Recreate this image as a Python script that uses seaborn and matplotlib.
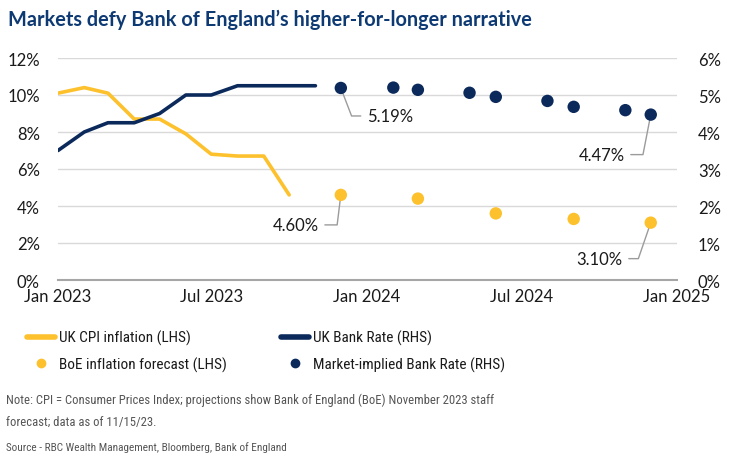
import pandas as pd
import numpy as np
import matplotlib
matplotlib.use('Agg')
import matplotlib.pyplot as plt
from matplotlib import font_manager as fm
from matplotlib.lines import Line2D
import seaborn as sns

# --- data ---
cpi_dates = pd.date_range('2023-01-01', periods=10, freq='MS')
cpi_values = [10.1, 10.4, 10.1, 8.7, 8.7, 7.9, 6.8, 6.7, 6.7, 4.6]

rate_dates = pd.date_range('2023-01-01', periods=11, freq='MS')
rate_values = [3.5, 4.0, 4.25, 4.25, 4.5, 5.0, 5.0, 5.25, 5.25, 5.25, 5.25]

forecast_dates = pd.to_datetime(['2023-12-01', '2024-03-01', '2024-06-01',
                                 '2024-09-01', '2024-12-01'])
forecast_values = [4.6, 4.4, 3.6, 3.3, 3.1]

market_dates = pd.to_datetime(['2023-12-01', '2024-02-01', '2024-03-01',
                               '2024-05-01', '2024-06-01', '2024-08-01',
                               '2024-09-01', '2024-11-01', '2024-12-01'])
market_values = [5.19, 5.20, 5.14, 5.06, 4.95, 4.84, 4.68, 4.59, 4.47]

left_ticks = [0, 2, 4, 6, 8, 10, 12]
right_ticks = [0, 1, 2, 3, 4, 5, 6]
x_ticks = pd.to_datetime(['2023-01-01', '2023-07-01', '2024-01-01',
                          '2024-07-01', '2025-01-01'])
x_tick_labels = ['Jan 2023', 'Jul 2023', 'Jan 2024', 'Jul 2024', 'Jan 2025']

cpi = pd.DataFrame({'date': cpi_dates, 'value': cpi_values})
rate = pd.DataFrame({'date': rate_dates, 'value': rate_values})
forecast = pd.DataFrame({'date': forecast_dates, 'value': forecast_values})
market = pd.DataFrame({'date': market_dates, 'value': market_values})

YELLOW = '#FDC12E'
NAVY = '#0B2A5B'
TITLE = '#0E3A73'
GREY = '#9B9B9B'

sns.set_style('white')
names = {f.name for f in fm.fontManager.ttflist}
narrow = None
for cand in ['Liberation Sans Narrow', 'Roboto Condensed', 'Open Sans Condensed',
             'Noto Sans Condensed']:
    if cand in names:
        narrow = cand
        break
plt.rcParams['font.family'] = ['Lato', 'DejaVu Sans']
text_font = [narrow, 'Lato'] if narrow else ['Lato']

fig = plt.figure(figsize=(7.33, 4.77), dpi=100)
ax = fig.add_axes([58 / 733, 196 / 477, 619 / 733, 222 / 477])
ax2 = ax.twinx()

sns.lineplot(data=cpi, x='date', y='value', ax=ax, color=YELLOW, lw=2.6, zorder=3)
sns.scatterplot(data=forecast, x='date', y='value', ax=ax, color=YELLOW, s=80,
                edgecolor='none', zorder=4)
sns.lineplot(data=rate, x='date', y='value', ax=ax2, color=NAVY, lw=2.6, zorder=3)
sns.scatterplot(data=market, x='date', y='value', ax=ax2, color=NAVY, s=80,
                edgecolor='none', zorder=4)

ax.set_xlim(pd.Timestamp('2023-01-01'), pd.Timestamp('2025-01-01'))
ax.set_ylim(0, 12)
ax2.set_ylim(0, 6)
ax.set_yticks(left_ticks)
ax.set_yticklabels([f'{t}%' for t in left_ticks])
ax2.set_yticks(right_ticks)
ax2.set_yticklabels([f'{t}%' for t in right_ticks])
ax.set_xticks(x_ticks)
ax.set_xticklabels(x_tick_labels)
for a in (ax, ax2):
    a.set_xlabel('')
    a.set_ylabel('')
    for s in ['top', 'left', 'right', 'bottom']:
        a.spines[s].set_visible(False)
ax.spines['bottom'].set_visible(True)
ax.spines['bottom'].set_color('#A6A6A6')
ax.spines['bottom'].set_linewidth(1.5)
ax.grid(axis='y', color='#D9D9D9', lw=1)
ax.set_axisbelow(True)
ax.tick_params(axis='x', length=5, width=1.2, color='#A6A6A6', pad=1,
               labelsize=12, labelcolor='#1A1A1A')
ax.tick_params(axis='y', length=0, pad=13, labelsize=12, labelcolor='#1A1A1A')
ax2.tick_params(axis='y', length=0, pad=15, labelsize=12, labelcolor='#1A1A1A')

# call-out labels with leader lines
callouts = [
    (ax, forecast_dates[0], forecast_values[0], '4.60%', -22, -30, 'right', -97),
    (ax, forecast_dates[-1], forecast_values[-1], '3.10%', -28, -36, 'right', -109),
    (ax2, market_dates[0], market_values[0], '5.19%', 26, -28, 'left', -69),
    (ax2, market_dates[-1], market_values[-1], '4.47%', -26, -40, 'right', -101),
]
for a, d, v, txt, dx, dy, ha, ang in callouts:
    a.annotate(txt, xy=(d, v), xytext=(dx, dy), textcoords='offset pixels',
               ha=ha, va='center', fontsize=12, color='#1A1A1A', zorder=2,
               arrowprops=dict(arrowstyle='-', color=GREY, lw=1, shrinkB=0,
                               relpos=(0 if ha == 'left' else 1, 0.5),
                               connectionstyle=f'angle,angleA=0,angleB={ang},rad=0'))

# title and legend
fig.text(8 / 733, 1 - 20 / 477, 'Markets defy Bank of England\u2019s higher-for-longer narrative',
         fontsize=14.3, fontweight='bold', color=TITLE, va='center', ha='left',
         family=['Lato', 'DejaVu Sans'])

leg_kw = dict(frameon=False, borderpad=0, borderaxespad=0, handlelength=1.85,
              handletextpad=0.25, labelspacing=0.75, loc='upper left',
              prop={'family': text_font, 'size': 11})
h1 = [Line2D([], [], color=YELLOW, lw=4),
      Line2D([], [], color=YELLOW, marker='o', ls='', ms=6)]
h2 = [Line2D([], [], color=NAVY, lw=4),
      Line2D([], [], color=NAVY, marker='o', ls='', ms=6)]
lg1 = fig.legend(h1, ['UK CPI inflation (LHS)', 'BoE inflation forecast (LHS)'],
                 bbox_to_anchor=(27 / 733, 1 - 331 / 477), **leg_kw)
lg2 = fig.legend(h2, ['UK Bank Rate (RHS)', 'Market-implied Bank Rate (RHS)'],
                 bbox_to_anchor=(281 / 733, 1 - 331 / 477), **leg_kw)
for lg in (lg1, lg2):
    for t in lg.get_texts():
        t.set_color('#1A1A1A')

fig.text(6 / 733, 1 - 400 / 477,
         'Note: CPI = Consumer Prices Index; projections show Bank of England (BoE) November 2023 staff',
         fontsize=9.1, color='#555555', va='center', family=text_font)
fig.text(6 / 733, 1 - 422 / 477, 'forecast; data as of 11/15/23.',
         fontsize=9.1, color='#555555', va='center', family=text_font)
fig.text(6 / 733, 1 - 448 / 477, 'Source - RBC Wealth Management, Bloomberg, Bank of England',
         fontsize=8.1, color='#555555', va='center', family=text_font)

fig.savefig('out.png', dpi=100)
